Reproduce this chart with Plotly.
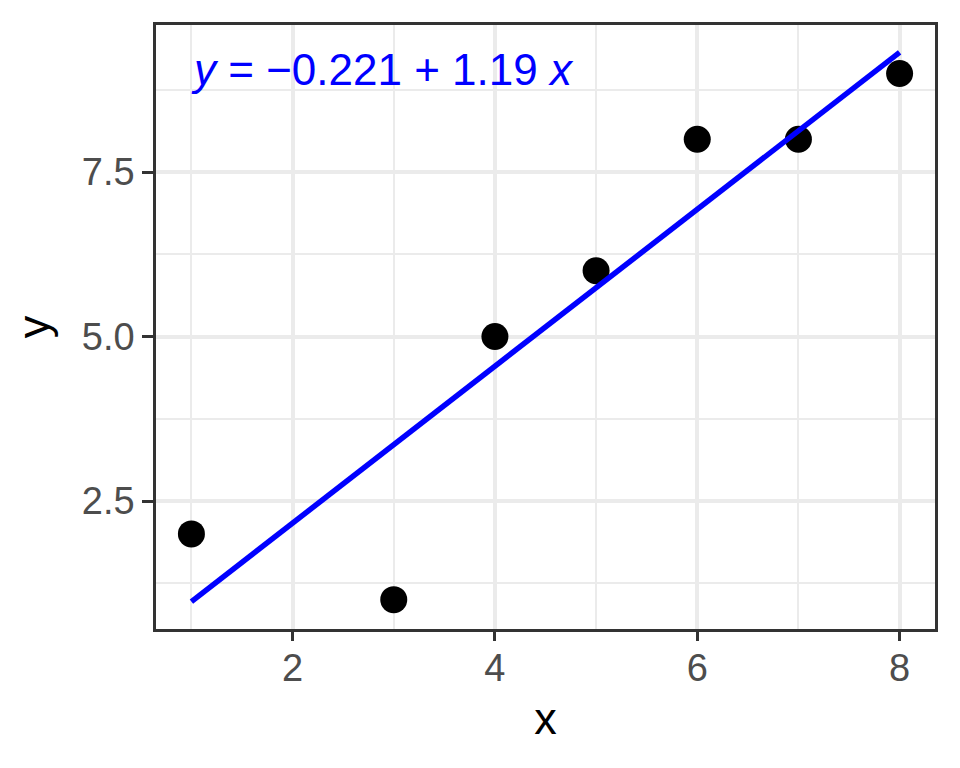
import numpy as np
import plotly.graph_objects as go

x_vals = [1, 3, 4, 5, 6, 7, 8]
y_vals = [2, 1, 5, 6, 8, 8, 9]

# least squares fit, like geom_smooth(method = "lm")
slope, intercept = np.polyfit(x_vals, y_vals, 1)
x_fit = np.array([min(x_vals), max(x_vals)])
y_fit = intercept + slope * x_fit

sign = "−" if intercept < 0 else ""
eq_label = f"<i>y</i> = {sign}{abs(intercept):.3f} + {slope:.2f} <i>x</i>"

# ggplot-like 5% expansion
def expand(lo, hi, k=0.05):
    d = (hi - lo) * k
    return [lo - d, hi + d]

x_range = expand(min(x_vals), max(x_vals))
y_range = expand(min(min(y_vals), y_fit.min()), max(max(y_vals), y_fit.max()))

font = "Liberation Sans, Arial, Helvetica, sans-serif"

fig = go.Figure()
# line goes on the twin x axis (same range) so that axis gets drawn
fig.add_trace(go.Scatter(
    x=x_fit, y=y_fit, mode="lines", xaxis="x2", yaxis="y",
    line=dict(color="#0000FF", width=5.5), showlegend=False,
))
fig.add_trace(go.Scatter(
    x=x_vals, y=y_vals, mode="markers",
    marker=dict(color="black", size=27), showlegend=False,
))

fig.add_annotation(
    x=x_vals[0], y=max(y_vals), xref="x", yref="y", xshift=-2, yshift=4,
    text=eq_label, showarrow=False, xanchor="left", yanchor="middle",
    font=dict(family=font, size=44, color="#0000FF"),
)

axis_common = dict(
    showline=True, mirror=True, linecolor="#333333", linewidth=2.5,
    showgrid=True, gridcolor="#EBEBEB", gridwidth=3.5,
    zeroline=False,
    tickfont=dict(family=font, size=38, color="#4D4D4D"),
)

# x labels sit closer to the axis than plotly's default, so the main axis
# gets short invisible ticks and a twin axis draws the real tick marks
fig.update_xaxes(
    range=x_range, tick0=0, dtick=2,
    ticks="outside", ticklen=4, tickwidth=3, tickcolor="rgba(0,0,0,0)",
    minor=dict(dtick=1, showgrid=True, gridcolor="#EBEBEB", gridwidth=1.8),
    title=dict(text="x", font=dict(family=font, size=45, color="black"), standoff=15),
    **axis_common,
)
fig.update_yaxes(
    range=y_range, tick0=0, dtick=2.5, tickformat=".1f",
    ticks="outside", ticklen=11, tickwidth=3, tickcolor="#333333",
    minor=dict(dtick=1.25, showgrid=True, gridcolor="#EBEBEB", gridwidth=1.8),
    title=dict(text="y", font=dict(family=font, size=45, color="black"), standoff=22),
    **axis_common,
)

# page body has an 8px margin, so shrink the figure to keep the panel in place
fig.update_layout(
    width=952, height=760,
    margin=dict(l=148, r=25, t=17, b=139),
    plot_bgcolor="white", paper_bgcolor="white",
    xaxis2=dict(
        overlaying="x", matches="x", anchor="y", side="bottom",
        range=x_range, tick0=0, dtick=2, showticklabels=False,
        ticks="outside", ticklen=11, tickwidth=3, tickcolor="#333333",
        showgrid=False, zeroline=False, showline=False,
    ),
)

fig.write_html("out.html")
